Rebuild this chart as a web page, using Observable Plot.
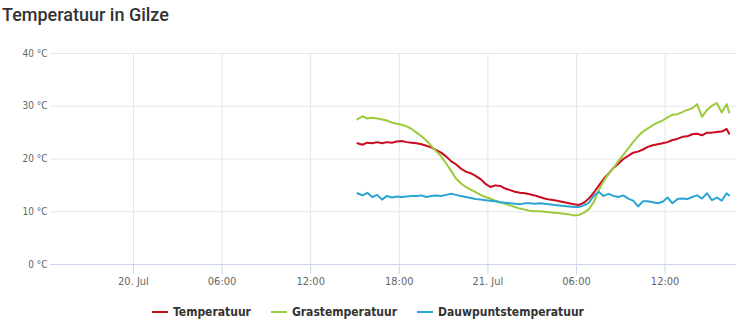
<!DOCTYPE html>
<html>
<head>
<meta charset="utf-8">
<script src="https://cdn.jsdelivr.net/npm/d3@7"></script>
<script src="https://cdn.jsdelivr.net/npm/@observablehq/plot@0.6"></script>
<style>
  html, body { margin: 0; padding: 0; background: #fff; }
  #wrap { width: 736px; height: 325px; position: relative; overflow: hidden; }
  #title { position: absolute; left: 2px; top: 0; height: 30px; font-family: Roboto, sans-serif; font-weight: 500; font-size: 18px; color: #333; line-height: 29px; white-space: nowrap; }
  #chart { position: absolute; left: 0; top: 30px; }
  #legend { position: absolute; left: 0; top: 302px; width: 736px; display: flex; justify-content: center; font-family: "DejaVu Sans Condensed", "DejaVu Sans", sans-serif; font-stretch: condensed; font-weight: bold; font-size: 12px; color: #333; }
  .item { display: flex; align-items: center; margin: 0 10px; height: 20px; }
  .sw { width: 16px; height: 2px; margin-right: 5px; }
</style>
</head>
<body>
<div id="wrap">
  <div id="title">Temperatuur in Gilze</div>
  <div id="chart"></div>
  <div id="legend"></div>
</div>
<script>
const seriesNames = ["Temperatuur", "Grastemperatuur", "Dauwpuntstemperatuur"];
const seriesColors = ["#cc0a1f", "#9bcb3b", "#2ba6d4"];

const times = [
  "2023-07-20T15:10","2023-07-20T15:30","2023-07-20T15:50","2023-07-20T16:10","2023-07-20T16:30","2023-07-20T16:50",
  "2023-07-20T17:10","2023-07-20T17:30","2023-07-20T17:50","2023-07-20T18:10","2023-07-20T18:30","2023-07-20T18:50",
  "2023-07-20T19:10","2023-07-20T19:30","2023-07-20T19:50","2023-07-20T20:10","2023-07-20T20:30","2023-07-20T20:50",
  "2023-07-20T21:10","2023-07-20T21:30","2023-07-20T21:50","2023-07-20T22:10","2023-07-20T22:30","2023-07-20T22:50",
  "2023-07-20T23:10","2023-07-20T23:30","2023-07-20T23:50","2023-07-21T00:10","2023-07-21T00:30","2023-07-21T00:50",
  "2023-07-21T01:10","2023-07-21T01:30","2023-07-21T01:50","2023-07-21T02:10","2023-07-21T02:30","2023-07-21T02:50",
  "2023-07-21T03:10","2023-07-21T03:30","2023-07-21T03:50","2023-07-21T04:10","2023-07-21T04:30","2023-07-21T04:50",
  "2023-07-21T05:10","2023-07-21T05:30","2023-07-21T05:50","2023-07-21T06:10","2023-07-21T06:30","2023-07-21T06:50",
  "2023-07-21T07:10","2023-07-21T07:30","2023-07-21T07:50","2023-07-21T08:10","2023-07-21T08:30","2023-07-21T08:50",
  "2023-07-21T09:10","2023-07-21T09:30","2023-07-21T09:50","2023-07-21T10:10","2023-07-21T10:30","2023-07-21T10:50",
  "2023-07-21T11:10","2023-07-21T11:30","2023-07-21T11:50","2023-07-21T12:10","2023-07-21T12:30","2023-07-21T12:50",
  "2023-07-21T13:10","2023-07-21T13:30","2023-07-21T13:50","2023-07-21T14:10","2023-07-21T14:30","2023-07-21T14:50",
  "2023-07-21T15:10","2023-07-21T15:30","2023-07-21T15:50","2023-07-21T16:10","2023-07-21T16:20"
];

const temperatuur = [
  23.0,22.7,23.1,23.0,23.2,23.0, 23.2,23.1,23.3,23.4,23.2,23.1,
  23.0,22.8,22.5,22.2,21.7,21.2, 20.5,19.6,19.0,18.2,17.6,17.3,
  16.8,16.2,15.3,14.7,15.0,14.9, 14.4,14.1,13.8,13.6,13.5,13.3,
  13.1,12.8,12.5,12.3,12.2,12.0, 11.8,11.6,11.4,11.3,11.7,12.5,
  13.6,14.9,16.2,17.2,18.3,19.1, 20.0,20.6,21.2,21.4,21.8,22.3,
  22.6,22.8,23.0,23.2,23.6,23.8, 24.2,24.3,24.7,24.8,24.5,25.0,
  25.0,25.1,25.2,25.7,24.8
];

const grastemperatuur = [
  27.5,28.1,27.7,27.8,27.7,27.5, 27.3,26.9,26.7,26.5,26.2,25.7,
  25.0,24.3,23.5,22.5,21.5,20.5, 19.2,17.8,16.3,15.4,14.7,14.2,
  13.7,13.2,12.8,12.5,12.1,11.8, 11.5,11.2,10.9,10.6,10.4,10.2,
  10.1,10.1,10.0,9.9,9.8,9.7, 9.6,9.5,9.3,9.4,9.8,10.5,
  11.8,14.0,15.8,17.2,18.3,19.6, 20.8,22.0,23.2,24.3,25.2,25.8,
  26.4,26.9,27.3,27.9,28.4,28.5, 28.9,29.3,29.6,30.4,28.0,29.3,
  30.1,30.6,28.8,30.4,28.8
];

const dauwpunt = [
  13.5,13.1,13.6,12.8,13.2,12.3, 13.0,12.7,12.9,12.8,12.9,13.0,
  13.0,13.1,12.8,13.0,13.1,13.0, 13.2,13.4,13.2,13.0,12.8,12.6,
  12.4,12.3,12.2,12.1,12.0,11.8, 11.7,11.6,11.5,11.4,11.6,11.6,
  11.5,11.6,11.5,11.4,11.3,11.2, 11.1,11.0,10.9,10.9,11.2,11.7,
  13.0,13.8,13.0,13.4,13.0,12.8, 13.1,12.5,12.1,11.0,12.0,12.0,
  11.8,11.6,11.9,12.7,11.6,12.4, 12.5,12.4,12.8,13.1,12.5,13.5,
  12.2,12.7,12.1,13.5,13.1
];

const xDomain = ["2023-07-19T18:23", "2023-07-21T16:50"];
const xTickTimes = ["2023-07-20T00:00","2023-07-20T06:00","2023-07-20T12:00","2023-07-20T18:00","2023-07-21T00:00","2023-07-21T06:00","2023-07-21T12:00"];
const xTickLabels = ["20. Jul","06:00","12:00","18:00","21. Jul","06:00","12:00"];
const yTicks = [0, 10, 20, 30, 40];

const parse = d3.utcParse("%Y-%m-%dT%H:%M");
const valueArrays = [temperatuur, grastemperatuur, dauwpunt];
const rows = [];
valueArrays.forEach((vals, s) => {
  vals.forEach((v, i) => rows.push({ time: parse(times[i]), value: v, series: seriesNames[s] }));
});
const xTicks = xTickTimes.map(parse);
const labelMap = new Map(xTicks.map((d, i) => [+d, xTickLabels[i]]));

const axisFont = '"DejaVu Sans Condensed", "DejaVu Sans", sans-serif';

const chart = Plot.plot({
  width: 736,
  height: 270,
  marginLeft: 50,
  marginRight: 0,
  marginTop: 23,
  marginBottom: 36,
  style: { fontFamily: axisFont, background: "#fff", overflow: "visible" },
  x: { type: "utc", domain: xDomain.map(parse) },
  y: { domain: [0, 40] },
  color: { domain: seriesNames, range: seriesColors },
  marks: [
    Plot.gridX(xTicks, { stroke: "#e6e6e6", strokeOpacity: 1 }),
    Plot.gridY(yTicks.filter(d => d > 0), { stroke: "#e6e6e6", strokeOpacity: 1 }),
    Plot.ruleY([0], { stroke: "#ccd6eb" }),
    Plot.axisX(xTicks, {
      tickSize: 10, tickPadding: 3, stroke: "#ccd6eb",
      tickFormat: d => labelMap.get(+d),
      fill: "#666", fontSize: 11, label: null
    }),
    Plot.axisY(yTicks, {
      tickSize: 0, tickPadding: 3,
      tickFormat: d => `${d} °C`,
      fill: "#666", fontSize: 10, label: null
    }),
    Plot.line(rows, { x: "time", y: "value", z: "series", stroke: "series", strokeWidth: 2, curve: "linear" })
  ]
});
document.getElementById("chart").appendChild(chart);

const legend = document.getElementById("legend");
seriesNames.forEach((n, i) => {
  const it = document.createElement("div");
  it.className = "item";
  it.innerHTML = `<span class="sw" style="background:${seriesColors[i]}"></span><span>${n}</span>`;
  legend.appendChild(it);
});
</script>
</body>
</html>
